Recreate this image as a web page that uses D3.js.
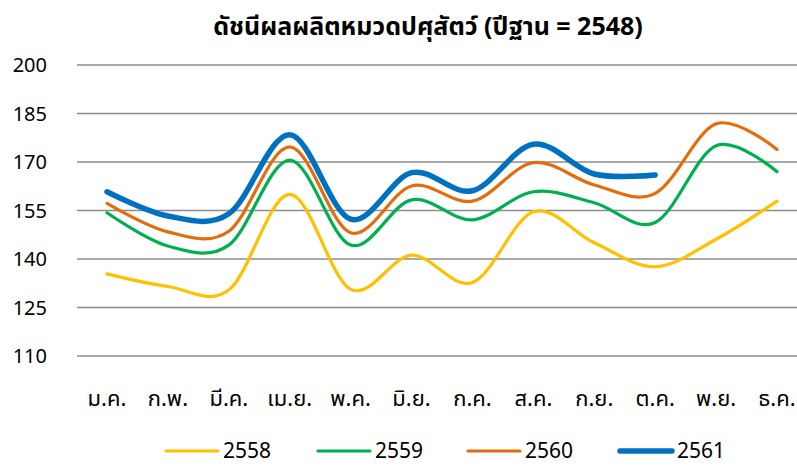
<!DOCTYPE html>
<html>
<head>
<meta charset="utf-8">
<script src="https://cdn.jsdelivr.net/npm/d3@7"></script>
<style>
  body { margin: 0; background: #fff; }
  text { font-family: Tahoma, "Noto Sans Thai", "Noto Sans", "DejaVu Sans", sans-serif; fill: #000; }
</style>
</head>
<body>
<div id="chart"></div>
<script>
// Monthly livestock production index, by year
const months = ["ม.ค.", "ก.พ.", "มี.ค.", "เม.ย.", "พ.ค.", "มิ.ย.", "ก.ค.", "ส.ค.", "ก.ย.", "ต.ค.", "พ.ย.", "ธ.ค."];
const years = ["2558", "2559", "2560", "2561"];
const values2558 = [135.4, 131.5, 130.4, 160.0, 130.6, 141.2, 132.7, 154.6, 145.0, 137.6, 146.1, 157.9];
const values2559 = [154.3, 144.0, 144.3, 170.6, 144.3, 158.3, 152.1, 160.8, 157.4, 151.3, 175.0, 167.0];
const values2560 = [157.2, 148.4, 148.6, 174.7, 148.1, 162.6, 157.9, 169.8, 162.9, 160.3, 181.8, 173.9];
const values2561 = [160.8, 153.3, 154.0, 178.4, 152.3, 166.7, 161.1, 175.5, 166.3, 166.0, null, null];
const yTicks = [110, 125, 140, 155, 170, 185, 200];

const seriesValues = [values2558, values2559, values2560, values2561];
const colors = ["#FFC000", "#00B050", "#E46C0A", "#0070C0"];
const widths = [3.2, 3.2, 3.2, 5.5];

const width = 797;
const height = 468;

const svg = d3.select("#chart")
    .append("svg")
    .attr("width", width)
    .attr("height", height);

const xScale = d3.scalePoint()
    .domain(months)
    .range([107, 777]);

const yScale = d3.scaleLinear()
    .domain([110, 200])
    .range([356, 65]);

// gridlines
svg.selectAll("line.grid")
    .data(yTicks)
    .enter()
    .append("line")
        .attr("class", "grid")
        .attr("x1", 77)
        .attr("x2", width)
        .attr("y1", function(d) { return yScale(d); })
        .attr("y2", function(d) { return yScale(d); })
        .attr("stroke", "#8c8c8c")
        .attr("stroke-width", 1.5);

// y labels
svg.selectAll("text.ytick")
    .data(yTicks)
    .enter()
    .append("text")
        .attr("class", "ytick")
        .attr("x", 47)
        .attr("y", function(d) { return yScale(d) + 7; })
        .style("text-anchor", "end")
        .style("font-size", "20px")
        .text(function(d) { return d; });

// x labels
svg.selectAll("text.xtick")
    .data(months)
    .enter()
    .append("text")
        .attr("class", "xtick")
        .attr("x", function(d) { return xScale(d); })
        .attr("y", 406)
        .style("text-anchor", "middle")
        .style("font-size", "22px")
        .text(function(d) { return d; });

const line = d3.line()
    .defined(function(d) { return d != null; })
    .x(function(d, i) { return xScale(months[i]); })
    .y(function(d) { return yScale(d); })
    .curve(d3.curveCardinal.tension(0));

seriesValues.forEach(function(vals, k) {
    svg.append("path")
        .datum(vals)
        .attr("d", line)
        .attr("fill", "none")
        .attr("stroke", colors[k])
        .attr("stroke-width", widths[k])
        .attr("stroke-linecap", "round")
        .attr("stroke-linejoin", "round");
});

// title
svg.append("text")
    .attr("x", 428)
    .attr("y", 35)
    .style("text-anchor", "middle")
    .style("font-size", "25px")
    .style("font-weight", "bold")
    .text("ดัชนีผลผลิตหมวดปศุสัตว์ (ปีฐาน = 2548)");

// legend
const legendX = [166, 318, 468, 620];
years.forEach(function(y, k) {
    svg.append("line")
        .attr("x1", legendX[k])
        .attr("x2", legendX[k] + 52)
        .attr("y1", 451)
        .attr("y2", 451)
        .attr("stroke", colors[k])
        .attr("stroke-width", widths[k])
        .attr("stroke-linecap", "round");
    svg.append("text")
        .attr("x", legendX[k] + 57)
        .attr("y", 458)
        .style("font-size", "21px")
        .text(y);
});
</script>
</body>
</html>
